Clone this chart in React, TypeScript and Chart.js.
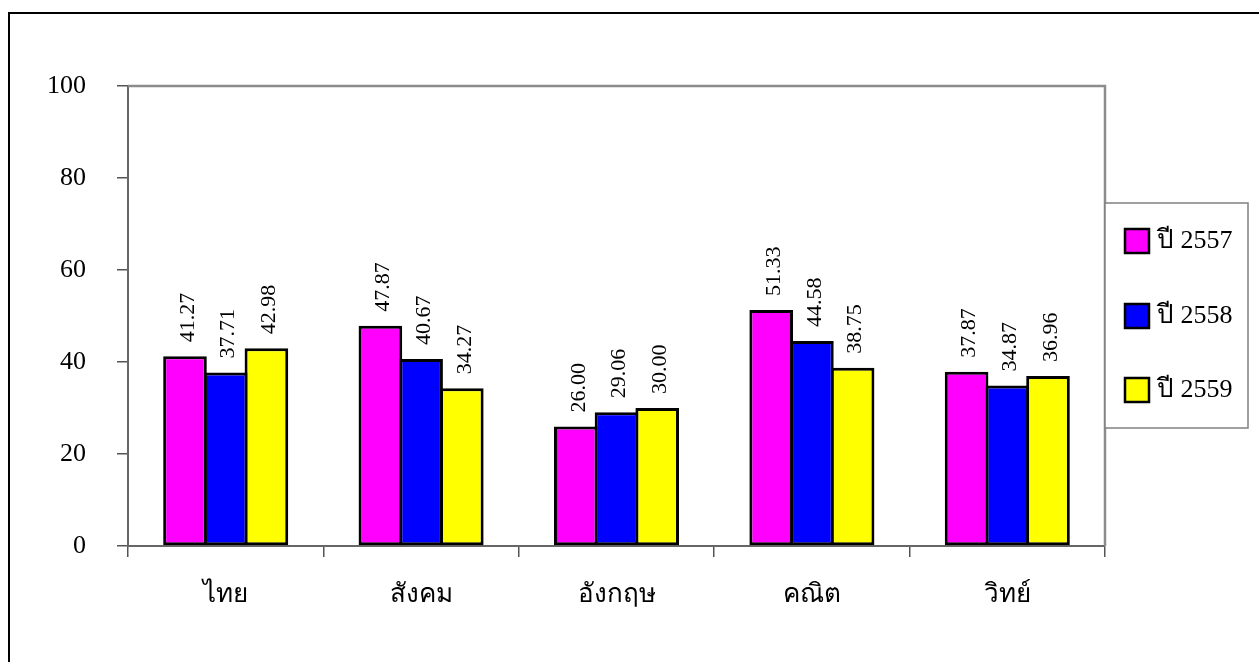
import React, { useEffect, useRef } from "react";
import { Chart, registerables } from "chart.js";

Chart.register(...registerables);

const categories = ["ไทย", "สังคม", "อังกฤษ", "คณิต", "วิทย์"];
const seriesLabels = ["ปี 2557", "ปี 2558", "ปี 2559"];
const values2557 = [41.27, 47.87, 26.0, 51.33, 37.87];
const values2558 = [37.71, 40.67, 29.06, 44.58, 34.87];
const values2559 = [42.98, 34.27, 30.0, 38.75, 36.96];
const seriesColors = ["#FF00FF", "#0000FF", "#FFFF00"];
const yMin = 0;
const yMax = 100;
const yStep = 20;

const FONT = "'Liberation Serif', 'Times New Roman', 'DejaVu Serif', serif";

const framePlugin = {
  id: "frame",
  beforeDatasetsDraw(chart: any) {
    const { ctx, chartArea } = chart;
    ctx.save();
    ctx.strokeStyle = "#8c8c8c";
    ctx.lineWidth = 2.5;
    ctx.beginPath();
    ctx.moveTo(chartArea.left, chartArea.top);
    ctx.lineTo(chartArea.right, chartArea.top);
    ctx.lineTo(chartArea.right, chartArea.bottom);
    ctx.stroke();
    ctx.restore();
  },
  afterDraw(chart: any) {
    const { ctx } = chart;
    ctx.save();
    ctx.strokeStyle = "#000";
    ctx.lineWidth = 2;
    ctx.strokeRect(9, 13, 1400, 800);
    ctx.restore();
  },
};

const valueLabelPlugin = {
  id: "valueLabels",
  afterDatasetsDraw(chart: any) {
    const { ctx } = chart;
    ctx.save();
    ctx.fillStyle = "#000";
    ctx.font = `22px ${FONT}`;
    ctx.textAlign = "left";
    ctx.textBaseline = "middle";
    chart.data.datasets.forEach((ds: any, i: number) => {
      const meta = chart.getDatasetMeta(i);
      meta.data.forEach((bar: any, j: number) => {
        const v = ds.data[j];
        ctx.save();
        ctx.translate(bar.x + 3, bar.y - 14);
        ctx.rotate(-Math.PI / 2);
        ctx.fillText(v.toFixed(2), 0, 0);
        ctx.restore();
      });
    });
    ctx.restore();
  },
};

const legendPlugin = {
  id: "customLegend",
  afterDraw(chart: any) {
    const { ctx } = chart;
    ctx.save();
    ctx.strokeStyle = "#808080";
    ctx.lineWidth = 1.5;
    ctx.fillStyle = "#fff";
    ctx.fillRect(1105, 203, 143, 225);
    ctx.strokeRect(1105, 203, 143, 225);
    const centers = [241, 316, 390];
    chart.data.datasets.forEach((ds: any, i: number) => {
      const cy = centers[i];
      ctx.fillStyle = ds.backgroundColor;
      ctx.fillRect(1125, cy - 12, 24, 24);
      ctx.strokeStyle = "#000";
      ctx.lineWidth = 2.5;
      ctx.strokeRect(1125, cy - 12, 24, 24);
      ctx.fillStyle = "#000";
      ctx.font = `26px ${FONT}`;
      ctx.textAlign = "left";
      ctx.textBaseline = "middle";
      ctx.fillText(ds.label, 1157, cy);
    });
    ctx.restore();
  },
};

export default function App() {
  const canvasRef = useRef<HTMLCanvasElement | null>(null);

  useEffect(() => {
    document.body.style.margin = "0";
    const canvas = canvasRef.current;
    if (!canvas) return;
    const series = [values2557, values2558, values2559];
    const chart = new Chart(canvas, {
      type: "bar",
      data: {
        labels: categories,
        datasets: series.map((vals, i) => ({
          label: seriesLabels[i],
          data: vals,
          backgroundColor: seriesColors[i],
          borderColor: "#000",
          borderWidth: 3,
          borderSkipped: false,
          inflateAmount: 0,
          categoryPercentage: 0.625,
          barPercentage: 1.072,
        })),
      },
      options: {
        responsive: true,
        maintainAspectRatio: false,
        animation: false,
        devicePixelRatio: 1,
        layout: { padding: { left: 0, top: 86, right: 154, bottom: 0 } },
        plugins: {
          legend: { display: false },
          tooltip: { enabled: false },
        },
        scales: {
          x: {
            grid: {
              display: true,
              offset: true,
              drawOnChartArea: false,
              tickLength: 11,
              color: "#555",
              lineWidth: 1.5,
            },
            border: { color: "#666", width: 2 },
            ticks: {
              font: { family: FONT, size: 26 },
              color: "#000",
              padding: 23,
            },
            afterFit: (s: any) => {
              s.height = 116;
            },
          },
          y: {
            min: yMin,
            max: yMax,
            ticks: {
              stepSize: yStep,
              font: { family: FONT, size: 26 },
              color: "#000",
              padding: 31,
            },
            grid: {
              drawOnChartArea: false,
              tickLength: 11,
              color: "#555",
              lineWidth: 1.5,
            },
            border: { color: "#666", width: 2 },
            afterFit: (s: any) => {
              s.width = 128;
            },
          },
        },
      },
      plugins: [framePlugin, valueLabelPlugin, legendPlugin],
    });
    return () => chart.destroy();
  }, []);

  return (
    <div style={{ position: "absolute", left: 0, top: 0, width: 1259, height: 662 }}>
      <canvas ref={canvasRef} />
    </div>
  );
}
